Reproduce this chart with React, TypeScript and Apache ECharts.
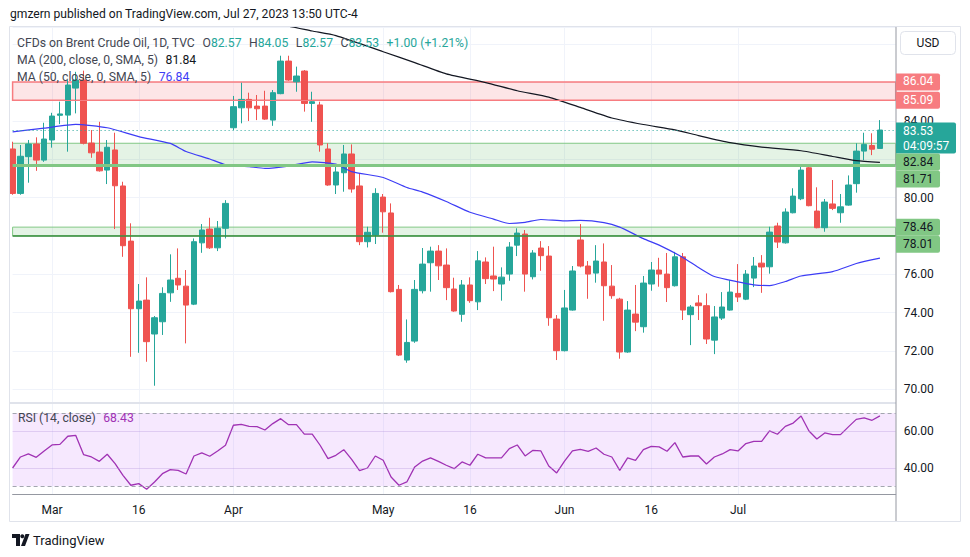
import React, { useEffect, useRef } from "react";
import * as echarts from "echarts";

// ---------- data ----------
const START_DATE = "2023-02-22";
const HOLIDAYS = ["2023-04-07"];
const FUTURE_BARS = 2;

// [open, close, low, high]
const candles: number[][] = [
  [82.54, 80.22, 80.15, 82.92], [80.22, 82.16, 80.15, 82.75], [82.14, 82.8, 80.78, 83.01], [82.8, 81.96, 81.4, 83.15],
  [81.96, 83.06, 81.87, 83.91], [83.01, 84.26, 82.61, 84.43], [84.3, 84.37, 83.84, 85.01], [84.31, 85.88, 82.4, 86.14],
  [85.72, 86.14, 84.4, 86.57], [86.14, 82.84, 82.78, 86.63], [82.85, 82.34, 82.08, 83.53], [82.38, 81.4, 81.36, 83.96],
  [81.44, 82.63, 80.71, 83.01], [82.49, 80.62, 78.36, 83.39], [80.61, 77.49, 76.91, 80.83], [77.73, 74.2, 71.69, 78.66],
  [74.2, 74.6, 71.9, 75.49], [74.65, 72.48, 71.43, 75.84], [72.88, 73.73, 70.18, 73.82], [73.52, 75.0, 72.83, 75.32],
  [75.03, 75.7, 74.56, 77.04], [75.79, 75.44, 75.18, 77.35], [75.38, 74.39, 72.39, 76.22], [74.44, 77.7, 74.39, 77.87],
  [77.64, 78.31, 77.12, 78.62], [78.36, 77.38, 77.32, 78.95], [77.38, 78.4, 77.21, 78.78], [78.4, 79.7, 77.87, 79.87],
  [83.65, 84.75, 83.53, 85.31], [84.69, 85.13, 83.88, 86.0], [85.13, 84.69, 84.0, 85.48], [84.78, 84.64, 84.05, 85.36],
  [84.78, 84.1, 84.06, 85.58], [84.05, 85.48, 83.75, 85.62], [85.43, 87.13, 85.4, 87.41], [87.13, 86.14, 86.1, 87.41],
  [86.05, 86.35, 85.53, 86.84], [86.61, 84.92, 84.49, 86.66], [84.92, 85.01, 83.96, 85.53], [84.84, 82.75, 82.4, 85.01],
  [82.54, 80.66, 80.62, 82.84], [80.66, 81.34, 80.19, 81.7], [81.3, 82.28, 80.31, 82.75], [82.28, 80.45, 80.26, 82.78],
  [80.61, 77.7, 77.52, 81.27], [77.7, 78.19, 77.4, 78.48], [78.05, 80.22, 77.58, 80.49], [80.03, 79.26, 78.17, 80.19],
  [79.2, 75.09, 75.05, 79.7], [75.21, 71.78, 71.73, 75.44], [71.52, 72.44, 71.38, 73.64], [72.51, 75.21, 72.42, 75.7],
  [75.14, 76.53, 75.0, 77.37], [76.6, 77.21, 75.09, 77.44], [77.21, 76.44, 75.7, 77.52], [76.48, 75.3, 74.65, 77.35],
  [75.23, 74.08, 74.04, 75.82], [73.91, 75.44, 73.52, 75.7], [75.44, 74.62, 74.51, 75.84], [74.56, 76.7, 74.13, 77.21],
  [76.64, 75.77, 75.49, 76.88], [75.91, 75.75, 75.12, 77.44], [75.49, 75.85, 74.62, 76.36], [76.01, 77.42, 75.66, 77.68],
  [77.52, 78.15, 76.95, 78.4], [78.1, 76.01, 75.09, 78.31], [75.87, 77.11, 75.73, 77.26], [77.37, 76.97, 76.18, 77.73],
  [76.95, 73.73, 73.31, 77.47], [73.66, 72.01, 71.52, 73.87], [72.01, 74.24, 71.97, 75.18], [74.13, 76.17, 74.1, 76.43],
  [77.79, 76.43, 76.36, 78.62], [76.43, 76.01, 74.72, 76.69], [76.06, 76.69, 75.56, 77.52], [76.64, 75.4, 73.57, 77.61],
  [75.38, 74.88, 74.72, 76.48], [74.7, 71.94, 71.59, 74.77], [71.94, 74.13, 71.9, 74.6], [73.92, 73.5, 73.03, 75.44],
  [73.26, 75.54, 72.95, 75.91], [75.49, 76.22, 75.14, 76.64], [76.22, 76.01, 75.35, 76.86], [76.01, 75.3, 74.55, 77.11],
  [75.4, 76.91, 75.36, 77.17], [76.91, 74.13, 73.61, 77.11], [73.89, 74.29, 72.3, 74.39], [74.5, 74.36, 73.61, 74.91],
  [74.36, 72.62, 72.36, 75.0], [72.56, 73.77, 71.83, 74.34], [73.71, 74.29, 73.61, 75.07], [74.13, 75.07, 74.1, 75.7],
  [75.0, 74.81, 74.55, 76.53], [74.7, 76.01, 74.65, 76.22], [75.8, 76.43, 75.33, 76.9], [76.58, 76.38, 75.03, 77.0],
  [76.39, 78.2, 76.03, 78.48], [78.52, 77.68, 77.37, 78.69], [77.64, 79.25, 77.6, 79.44], [79.21, 80.08, 79.18, 80.49],
  [79.94, 81.44, 79.87, 81.61], [81.56, 79.58, 79.55, 81.62], [79.3, 78.43, 78.4, 80.54], [78.43, 79.77, 78.22, 79.93],
  [79.67, 79.44, 79.35, 80.92], [79.21, 79.52, 78.69, 80.19], [79.61, 80.66, 79.58, 81.16], [80.73, 82.43, 80.26, 82.84],
  [82.43, 82.78, 81.96, 83.39], [82.72, 82.53, 82.22, 83.36], [82.57, 83.53, 82.57, 84.05],
];

// [bar index, value]
const ma200Points: number[][] = [
  [30, 89.3], [35, 88.95], [38, 88.7], [41, 88.46], [47, 87.62], [51, 87.05], [55, 86.46], [60, 86.01],
  [64, 85.58], [68, 85.25], [72, 84.71], [76, 84.16], [80, 83.82], [84, 83.54], [87, 83.24], [91, 82.87],
  [95, 82.64], [100, 82.45], [104, 82.15], [107, 81.93], [110, 81.84],
];
const ma50Points: number[][] = [
  [0, 83.43], [4, 83.63], [8, 83.83], [12, 83.65], [16, 83.19], [20, 82.83], [22, 82.41], [25, 82.02],
  [27, 81.72], [30, 81.62], [32, 81.53], [35, 81.65], [38, 81.87], [41, 81.75], [43, 81.36], [47, 81.05],
  [50, 80.53], [52, 80.29], [55, 79.8], [58, 79.24], [61, 78.88], [63, 78.65], [65, 78.71], [67, 78.86],
  [70, 78.79], [72, 78.81], [75, 78.7], [77, 78.46], [80, 77.86], [82, 77.52], [85, 76.88], [87, 76.35],
  [89, 75.88], [92, 75.6], [94, 75.45], [96, 75.41], [98, 75.62], [100, 75.91], [104, 76.14], [107, 76.56],
  [110, 76.84],
];

const rsi: number[] = [
  40.0, 46.0, 47.65, 45.8, 49.3, 52.55, 52.9, 57.3, 57.8, 47.3, 46.0, 43.65, 47.5, 42.4, 36.0, 30.6,
  31.5, 28.4, 32.4, 36.9, 39.1, 38.75, 36.75, 46.55, 48.2, 46.4, 49.3, 52.4, 63.3, 63.8, 62.7, 62.5,
  60.7, 64.2, 66.9, 63.6, 63.6, 58.5, 58.5, 52.4, 45.1, 46.9, 50.0, 44.7, 38.6, 40.0, 46.55, 44.2,
  35.1, 30.6, 32.4, 40.6, 43.8, 45.5, 43.65, 41.5, 39.65, 43.3, 41.5, 47.5, 45.5, 45.5, 45.5, 50.55,
  52.55, 46.55, 49.65, 49.3, 41.1, 37.3, 43.8, 49.3, 50.2, 49.1, 50.9, 47.5, 46.0, 38.75, 45.5, 44.2,
  50.0, 51.8, 51.5, 49.1, 53.8, 46.0, 46.55, 46.55, 42.2, 46.0, 47.65, 50.0, 49.3, 53.3, 54.55, 54.55,
  60.2, 58.4, 62.7, 64.5, 68.35, 60.2, 55.8, 59.1, 58.2, 58.2, 62.4, 66.5, 67.3, 66.0, 68.43,
];

const tickDates = ["2023-03-01", "2023-03-16", "2023-04-03", "2023-05-01", "2023-05-16", "2023-06-01", "2023-06-16", "2023-07-03"];
const tickLabels = ["Mar", "16", "Apr", "May", "16", "Jun", "16", "Jul"];
const priceTickLabels = ["70.00", "72.00", "74.00", "76.00", "80.00", "84.00"];
const rsiTickLabels = ["40.00", "60.00"];

const redZone = [86.04, 85.09];
const greenZoneHigh = [82.84, 81.71];
const greenZoneLow = [78.46, 78.01];
const countdown = "04:09:57";

const UP = "#26a69a";
const DOWN = "#ef5350";
const FONT = "Roboto, 'Noto Sans', sans-serif";

function buildDates(start: string, count: number, holidays: string[]): string[] {
  const out: string[] = [];
  const d = new Date(start + "T00:00:00Z");
  while (out.length < count) {
    const dow = d.getUTCDay();
    const s = d.toISOString().slice(0, 10);
    if (dow !== 0 && dow !== 6 && !holidays.includes(s)) out.push(s);
    d.setUTCDate(d.getUTCDate() + 1);
  }
  return out;
}

export default function App() {
  const ref = useRef<HTMLDivElement>(null);

  useEffect(() => {
    const el = ref.current;
    if (!el) return;
    const chart = echarts.init(el, null, { renderer: "svg" });

    const categories = buildDates(START_DATE, candles.length + FUTURE_BARS, HOLIDAYS);
    const tickMap = new Map<string, string>();
    tickDates.forEach((d, i) => tickMap.set(d, tickLabels[i]));
    const isTick = (_i: number, v: string) => tickMap.has(v);

    const last = candles[candles.length - 1];
    const prevClose = candles[candles.length - 2][1];
    const lastPrice = last[1];
    const chg = lastPrice - prevClose;
    const pct = (chg / prevClose) * 100;

    const gridColor = "#f0f3fa";
    const axisText = "#131722";

    const option: any = {
      animation: false,
      backgroundColor: "#ffffff",
      textStyle: { fontFamily: FONT },
      grid: [
        { left: 12.6, right: 74.3, top: 27, height: 375 },
        { left: 12.6, right: 74.3, top: 404, height: 90.5 },
      ],
      xAxis: [
        {
          type: "category", gridIndex: 0, data: categories, boundaryGap: false,
          axisLine: { show: false }, axisTick: { show: false }, axisLabel: { show: false },
          splitLine: { show: true, interval: isTick, lineStyle: { color: gridColor, width: 1 } },
        },
        {
          type: "category", gridIndex: 1, data: categories, boundaryGap: false,
          axisLine: { show: true, lineStyle: { color: "#9598a1", width: 1 } },
          axisTick: { show: false },
          axisLabel: {
            show: true, interval: isTick, formatter: (v: string) => tickMap.get(v) || "",
            color: axisText, fontSize: 12, margin: 9, fontFamily: FONT,
          },
          splitLine: { show: true, interval: isTick, lineStyle: { color: gridColor, width: 1 } },
        },
      ],
      yAxis: [
        {
          type: "value", gridIndex: 0, position: "right", min: 69.33, max: 88.91, splitNumber: 10, scale: true,
          axisLine: { show: false }, axisTick: { show: false },
          axisLabel: {
            margin: 8, color: axisText, fontSize: 12, fontFamily: FONT,
            formatter: (v: number) => (priceTickLabels.includes(v.toFixed(2)) ? v.toFixed(2) : ""),
          },
          splitLine: { show: true, lineStyle: { color: gridColor, width: 1 } },
        },
        {
          type: "value", gridIndex: 1, position: "right", min: 25.56, max: 74.88, splitNumber: 5, scale: true,
          axisLine: { show: false }, axisTick: { show: false },
          axisLabel: {
            margin: 8, color: axisText, fontSize: 12, fontFamily: FONT,
            formatter: (v: number) => (rsiTickLabels.includes(v.toFixed(2)) ? v.toFixed(2) : ""),
          },
          splitLine: { show: false },
        },
      ],
      series: [
        {
          type: "candlestick", xAxisIndex: 0, yAxisIndex: 0, data: candles, barWidth: 6, clip: false,
          itemStyle: { color: UP, color0: DOWN, borderColor: UP, borderColor0: DOWN, borderWidth: 1 },
          markArea: {
            silent: true,
            data: [
              [
                { yAxis: redZone[0], itemStyle: { color: "rgba(242,54,69,0.13)", borderColor: "#f77c80", borderWidth: 1.5 } },
                { yAxis: redZone[1] },
              ],
              [
                { yAxis: greenZoneHigh[0], itemStyle: { color: "rgba(76,175,80,0.15)", borderColor: "#81c784", borderWidth: 1 } },
                { yAxis: greenZoneHigh[1] },
              ],
              [
                { yAxis: greenZoneLow[0], itemStyle: { color: "rgba(76,175,80,0.15)", borderColor: "#81c784", borderWidth: 1 } },
                { yAxis: greenZoneLow[1] },
              ],
            ],
          },
          markLine: {
            silent: true, symbol: ["none", "none"], label: { show: false },
            data: [
              { yAxis: lastPrice, lineStyle: { color: UP, type: [1, 3], width: 1 } },
              { yAxis: redZone[1], lineStyle: { color: "#f77c80", type: "solid", width: 1.2 } },
              { yAxis: greenZoneHigh[1], lineStyle: { color: "#81c784", type: "solid", width: 3 } },
              { yAxis: greenZoneLow[1], lineStyle: { color: "#388e3c", type: "solid", width: 1.5 } },
            ],
          },
          z: 3,
        },
        {
          type: "line", name: "MA200", xAxisIndex: 0, yAxisIndex: 0, showSymbol: false, symbol: "none", smooth: 0.2,
          data: ma200Points.map(([i, v]) => [categories[i], v]),
          lineStyle: { color: "#131722", width: 1.2 }, z: 4,
        },
        {
          type: "line", name: "MA50", xAxisIndex: 0, yAxisIndex: 0, showSymbol: false, symbol: "none", smooth: 0.2,
          data: ma50Points.map(([i, v]) => [categories[i], v]),
          lineStyle: { color: "#3d3df5", width: 1.2 }, z: 4,
        },
        {
          type: "line", name: "RSI", xAxisIndex: 1, yAxisIndex: 1, showSymbol: false, symbol: "none",
          data: rsi, lineStyle: { color: "#a032b4", width: 1.3 }, z: 4,
          markArea: {
            silent: true,
            data: [[{ yAxis: 70, itemStyle: { color: "rgba(200,120,250,0.17)" } }, { yAxis: 30 }]],
          },
          markLine: {
            silent: true, symbol: ["none", "none"], label: { show: false },
            data: [
              { yAxis: 70, lineStyle: { color: "#a3a6af", type: [4, 3], width: 1 } },
              { yAxis: 30, lineStyle: { color: "#a3a6af", type: [4, 3], width: 1 } },
              { yAxis: 60, lineStyle: { color: "rgba(180,150,220,0.35)", type: "solid", width: 1 } },
              { yAxis: 40, lineStyle: { color: "rgba(180,150,220,0.35)", type: "solid", width: 1 } },
            ],
          },
        },
      ],
    };

    chart.setOption(option);

    const yPix = (v: number) => chart.convertToPixel({ yAxisIndex: 0 }, v) as number;

    // price labels on the right axis, stacked so they don't overlap
    const labels = [
      { v: redZone[0], bg: "#f77c80", fg: "#ffffff" },
      { v: redZone[1], bg: "#f77c80", fg: "#ffffff" },
      { v: lastPrice, bg: UP, fg: "#ffffff", second: countdown },
      { v: greenZoneHigh[0], bg: "#81c784", fg: "#131722" },
      { v: greenZoneHigh[1], bg: "#81c784", fg: "#131722" },
      { v: greenZoneLow[0], bg: "#81c784", fg: "#131722" },
      { v: greenZoneLow[1], bg: "#81c784", fg: "#131722" },
    ];
    const H = 17;
    let prevBottom = -Infinity;
    const labelEls: any[] = [];
    labels.forEach((l) => {
      const y = yPix(l.v);
      const h = l.second ? 31 : H;
      const top = Math.max(y - 7.5 - (l.second ? 0 : 1), prevBottom);
      prevBottom = top + h;
      const w = l.second ? 60 : 44;
      labelEls.push({
        type: "rect", z: 100, shape: { x: 896, y: top, width: w, height: h, r: [0, 2, 2, 0] },
        style: { fill: l.bg },
      });
      labelEls.push({
        type: "text", z: 101, x: 903, y: top + (l.second ? 8.5 : 8),
        style: { text: l.v.toFixed(2), fill: l.fg, fontSize: 12, fontFamily: FONT, verticalAlign: "middle" },
      });
      if (l.second) {
        labelEls.push({
          type: "text", z: 101, x: 903, y: top + 23,
          style: { text: l.second, fill: l.fg, fontSize: 12, fontFamily: FONT, verticalAlign: "middle" },
        });
      }
    });

    const g = "#434651";
    const FS = 12.2;
    const legendRich = {
      g: { fill: g, fontSize: FS, fontFamily: FONT },
      t: { fill: UP, fontSize: FS, fontFamily: FONT },
      k: { fill: "#131722", fontSize: FS, fontFamily: FONT },
      b: { fill: "#3d3df5", fontSize: FS, fontFamily: FONT },
      p: { fill: "#a032b4", fontSize: FS, fontFamily: FONT },
      s: { fontSize: 9 },
    };
    const ma200Last = ma200Points[ma200Points.length - 1][1];
    const ma50Last = ma50Points[ma50Points.length - 1][1];
    const rsiLast = rsi[rsi.length - 1];
    const sign = chg >= 0 ? "+" : "";

    const graphics: any[] = [
      {
        type: "rect", z: 99, silent: true,
        shape: { x: 9.5, y: 26.5, width: 951, height: 495 },
        style: { fill: "none", stroke: "#e0e3eb", lineWidth: 1 },
      },
      {
        type: "line", z: 99, silent: true, shape: { x1: 10, y1: 403, x2: 896, y2: 403 },
        style: { stroke: "#e0e3eb", lineWidth: 2 },
      },
      {
        type: "line", z: 99, silent: true, shape: { x1: 896, y1: 27, x2: 896, y2: 521 },
        style: { stroke: "#9598a1", lineWidth: 1 },
      },
      {
        type: "rect", z: 102, shape: { x: 900.5, y: 31.5, width: 55, height: 23, r: 4 },
        style: { fill: "#ffffff", stroke: "#e0e3eb", lineWidth: 1 },
      },
      {
        type: "text", z: 103, x: 928, y: 43,
        style: { text: "USD", fill: "#131722", fontSize: 12, fontFamily: FONT, align: "center", verticalAlign: "middle" },
      },
      {
        type: "text", z: 100, x: 10, y: 14,
        style: {
          text: "gmzern published on TradingView.com, Jul 27, 2023 13:50 UTC-4",
          fill: "#131722", fontSize: 12.1, fontFamily: FONT, verticalAlign: "middle",
        },
      },
      {
        type: "text", z: 100, x: 17, y: 42.5,
        style: {
          text:
            "{g|CFDs on Brent Crude Oil, 1D, TVC}{s|   }{g|O}{t|" + last[0].toFixed(2) + "}{s|   }{g|H}{t|" + last[3].toFixed(2) +
            "}{s|   }{g|L}{t|" + last[2].toFixed(2) + "}{s|   }{g|C}{t|" + last[1].toFixed(2) + "}{s|   }{t|" + sign + chg.toFixed(2) +
            " (" + sign + pct.toFixed(2) + "%)}",
          rich: legendRich, verticalAlign: "middle",
        },
      },
      {
        type: "text", z: 100, x: 17, y: 60,
        style: { text: "{g|MA (200, close, 0, SMA, 5)}{s|   }{k|" + ma200Last.toFixed(2) + "}", rich: legendRich, verticalAlign: "middle" },
      },
      {
        type: "text", z: 100, x: 17, y: 77,
        style: { text: "{g|MA (50, close, 0, SMA, 5)}{s|   }{b|" + ma50Last.toFixed(2) + "}", rich: legendRich, verticalAlign: "middle" },
      },
      {
        type: "text", z: 100, x: 18, y: 418,
        style: { text: "{g|RSI (14, close)}{s|   }{p|" + rsiLast.toFixed(2) + "}", rich: legendRich, verticalAlign: "middle" },
      },
      // TradingView logo
      {
        type: "polygon", z: 100,
        shape: { points: [[12, 534], [20, 534], [20, 546], [16, 546], [16, 538], [12, 538]] },
        style: { fill: "#131722" },
      },
      { type: "circle", z: 100, shape: { cx: 22.3, cy: 536.2, r: 2 }, style: { fill: "#131722" } },
      {
        type: "polygon", z: 100,
        shape: { points: [[25.5, 534], [29.5, 534], [25, 546], [21, 546]] },
        style: { fill: "#131722" },
      },
      {
        type: "text", z: 100, x: 33, y: 540,
        style: { text: "TradingView", fill: "#131722", fontSize: 13, fontFamily: FONT, verticalAlign: "middle" },
      },
      ...labelEls,
    ];

    chart.setOption({ graphic: graphics });

    return () => chart.dispose();
  }, []);

  return (
    <div
      ref={ref}
      style={{ position: "absolute", left: 0, top: 0, width: 970, height: 557, background: "#ffffff" }}
    />
  );
}
